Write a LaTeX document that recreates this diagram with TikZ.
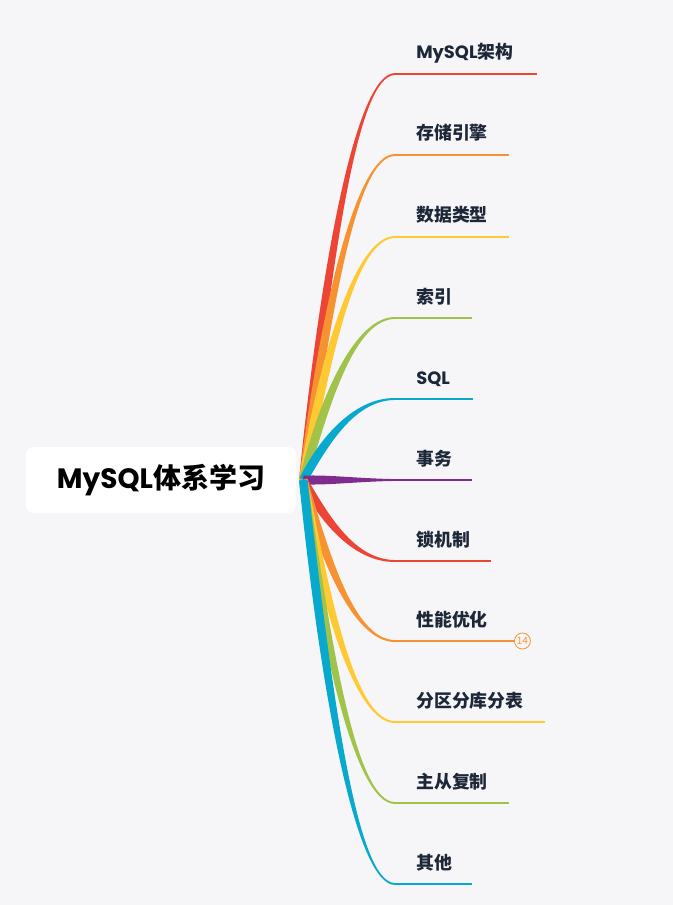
\documentclass[tikz,border=0pt]{standalone}
\usepackage{fontspec}
\setmainfont{Noto Sans CJK SC}
\newfontfamily\latin{Poppins}
\usetikzlibrary{calc,positioning}

\definecolor{bg}{HTML}{F6F6F8}
\definecolor{ink}{HTML}{1D2738}
\definecolor{cred}{HTML}{EC4536}
\definecolor{corange}{HTML}{F6922F}
\definecolor{cyellow}{HTML}{FFC933}
\definecolor{cgreen}{HTML}{A2C34A}
\definecolor{ccyan}{HTML}{08A9CD}
\definecolor{cpurple}{HTML}{7E2C8F}

\tikzset{
  rootbox/.style={fill=white, rounded corners=6pt, minimum width=202.5pt,
    minimum height=49.5pt, inner sep=0pt, font=\bfseries\fontsize{21}{25}\selectfont},
  topic/.style={anchor=base west, text=ink, inner sep=0pt,
    font=\bfseries\fontsize{13.4}{15}\selectfont},
  badge/.style={circle, draw=#1, fill=bg, text=#1, line width=0.6pt,
    minimum size=12pt, inner sep=0pt, font=\fontsize{7.5}{8}\selectfont}
}

\begin{document}
\begin{tikzpicture}[x=0.75pt, y=-0.75pt]
  \fill[bg] (0,0) rectangle (673,905);
  \useasboundingbox (0,0) rectangle (673,905);

  \node[rootbox] (root) at (161,480) {{\latin MySQL}体系学习};
  \coordinate (p0) at ($(root.east)+(7,0)$);

  % branches: end y / line end x / colour / label
  \foreach \y/\e/\c/\t [count=\i] in {
      74/537/cred/{{\latin MySQL}架构},
      155/509/corange/存储引擎,
      237/509/cyellow/数据类型,
      318/472/cgreen/索引,
      399/473/ccyan/{{\latin SQL}},
      480/472/cpurple/事务,
      561/491/cred/锁机制,
      641/514/corange/性能优化,
      722/545/cyellow/分区分库分表,
      803/509/cgreen/主从复制,
      884/472/ccyan/其他} {
    \coordinate (p1) at (327,{\y+0.45*(480-\y)});
    \coordinate (p2) at (357,\y);
    \coordinate (s\i) at (395,\y);
    \coordinate (e\i) at (\e,\y);
    \coordinate (a0) at ($(p0)!3.2pt!90:(p1)$);
    \coordinate (b0) at ($(p0)!3.2pt!-90:(p1)$);
    \coordinate (a3) at ($(s\i)!0.7pt!-90:(p2)$);
    \coordinate (b3) at ($(s\i)!0.7pt!90:(p2)$);
    \fill[\c] (a0) .. controls ($(p1)+1.3*(a0)-1.3*(p0)$) and ($(p2)+1.6*(a3)-1.6*(s\i)$) .. (a3)
      -- (b3) .. controls ($(p2)+1.6*(b3)-1.6*(s\i)$) and ($(p1)+1.3*(b0)-1.3*(p0)$) .. (b0) -- cycle;
    \draw[\c, line width=1.3pt] (s\i) -- (e\i);
    \node[topic] (t\i) at ($(s\i)+(21,-15)$) {\t};
  }

  \node[badge=corange, right=0pt of e8] (n8) {14};
\end{tikzpicture}
\end{document}
